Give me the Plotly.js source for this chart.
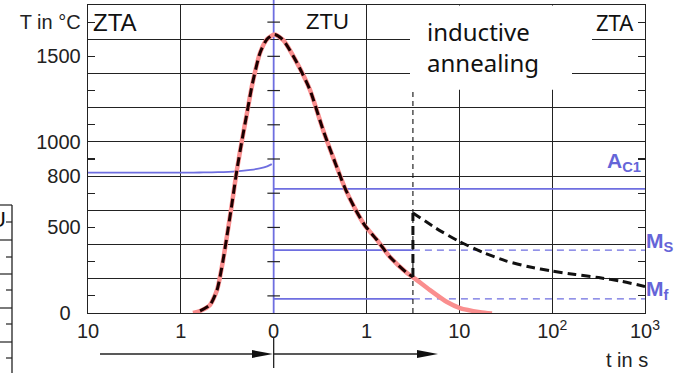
<!DOCTYPE html>
<html><head><meta charset="utf-8">
<script src="https://cdn.plot.ly/plotly-3.0.1.min.js"></script>
<style>html,body{margin:0;padding:0;background:#fff}#chart{width:679px;height:373px}</style>
</head><body><div id="chart"></div>
<script>
// Schematic time axis: one unit per segment (10 -> 1 -> 0 -> 1 -> 10 -> 10^2 -> 10^3)
const xTickPos = [0, 1, 2, 3, 4, 5, 6];
const xTickLabels = ['10', '1', '0', '1', '10', '10<sup>2</sup>', '10<sup>3</sup>'];
const xGridPos = [1, 3, 4, 5];

const yLabelVals = [0, 500, 800, 1000, 1500, 1700];
const yLabelText = ['0\u2002', '500', '800', '1000', '1500', 'T in °C'];
const yMinorTicks = [100, 300, 500, 700, 900, 1100, 1300, 1500, 1700];
const yGridVals = [200, 400, 600, 800, 1000, 1200, 1400, 1600];

// Weld thermal cycle (ZTA heating / ZTU cooling)
const cycleTime = [1.131, 1.207, 1.314, 1.390, 1.454, 1.497, 1.551, 1.605, 1.659, 1.713, 1.767, 1.853, 1.928, 2.010,
                   2.101, 2.251, 2.391, 2.532, 2.661, 2.768, 2.876, 2.984, 3.113, 3.253, 3.436, 3.500,
                   3.684, 3.867, 4.007, 4.223, 4.352];
const cycleTemp = [0, 12, 47, 134, 305, 450, 640, 840, 1010, 1170, 1330, 1520, 1600, 1628,
                   1596, 1462, 1304, 1070, 880, 730, 610, 510, 427, 327, 234, 210,
                   134, 64, 29, 5, -3];

// Inductive annealing after quench
const annealStart = 3.5;
const quenchTemp = [210, 585];
const annealTime = [3.5, 3.75, 4.0, 4.25, 4.5, 4.75, 5.0, 5.25, 5.5, 5.75, 6.0];
const annealTemp = [585, 495, 418, 355, 305, 270, 245, 225, 207, 185, 155];
const annealMarkerTemp = [0, 1300];

// ZTA transformation line (left)
const ztaTime = [0, 1.0, 1.2, 1.4, 1.6, 1.75, 1.85, 1.93, 1.98];
const ztaTemp = [820, 820, 821, 823, 828, 836, 845, 857, 870];

// Transformation temperatures
const ac1Temp = 725;
const msTemp = 368;
const mfTemp = 82;
const peakTime = 2;

const BLUE = '#6e6ee0';
const LBLUE = '#6565d8';
const INK = '#222';

const yTickVals = Array.from(new Set(yLabelVals.concat(yMinorTicks))).sort((a, b) => a - b);
const yTickText = yTickVals.map(v => { const i = yLabelVals.indexOf(v); return i >= 0 ? yLabelText[i] : ''; });

const blackA = { x: [], y: [] };
cycleTime.forEach((t, i) => { if (t >= 1.2 && t <= annealStart) { blackA.x.push(t); blackA.y.push(cycleTemp[i]); } });

const base = { type: 'scatter', mode: 'lines', hoverinfo: 'skip', showlegend: false };
const traces = [
  Object.assign({}, base, { x: ztaTime, y: ztaTemp, line: { color: BLUE, width: 1.8, shape: 'spline' } }),
  Object.assign({}, base, { x: [peakTime, 6], y: [ac1Temp, ac1Temp], line: { color: BLUE, width: 1.8 } }),
  Object.assign({}, base, { x: [peakTime, annealStart], y: [msTemp, msTemp], line: { color: BLUE, width: 1.8 } }),
  Object.assign({}, base, { x: [annealStart, 6], y: [msTemp, msTemp], line: { color: BLUE, width: 1.3, dash: '7px,5px' } }),
  Object.assign({}, base, { x: [peakTime, annealStart], y: [mfTemp, mfTemp], line: { color: BLUE, width: 1.8 } }),
  Object.assign({}, base, { x: [annealStart, 6], y: [mfTemp, mfTemp], line: { color: BLUE, width: 1.3, dash: '7px,5px' } }),
  Object.assign({}, base, { x: [annealStart, annealStart], y: annealMarkerTemp, line: { color: '#111', width: 1.1, dash: '5px,4px' } }),
  Object.assign({}, base, { x: cycleTime, y: cycleTemp, line: { color: '#fa8e8e', width: 4.5, shape: 'spline', smoothing: 0.6 } }),
  Object.assign({}, base, { x: blackA.x, y: blackA.y, line: { color: '#1e0000', width: 3, dash: '9px,5px', shape: 'spline', smoothing: 0.6 } }),
  Object.assign({}, base, { x: [annealStart, annealStart], y: quenchTemp, line: { color: '#111', width: 3, dash: '9px,5px' } }),
  Object.assign({}, base, { x: annealTime, y: annealTemp, line: { color: '#111', width: 3, dash: '9px,5px', shape: 'spline', smoothing: 0.6 } }),
  Object.assign({}, base, { mode: 'markers', x: yMinorTicks.map(() => peakTime), y: yMinorTicks,
    marker: { symbol: 'line-ew', size: 9, color: INK, line: { color: INK, width: 1.2 } } }),
  // carriers for the grid axes
  { type: 'scatter', mode: 'markers', x: [0], y: [0], xaxis: 'x2', yaxis: 'y', marker: { opacity: 0 }, hoverinfo: 'skip', showlegend: false },
  { type: 'scatter', mode: 'markers', x: [0], y: [0], xaxis: 'x', yaxis: 'y2', marker: { opacity: 0 }, hoverinfo: 'skip', showlegend: false }
];

const PW = 557, PH = 308, ML = 88, MT = 5;
const px = p => (p - ML) / PW;          // page x -> paper
const py = p => (MT + PH - p) / PH;     // page y -> paper
const u = p => (p - ML) / PW * 6;       // page x -> schematic time unit

const shapes = [
  // white cover behind the "inductive annealing" label
  { type: 'rect', xref: 'x', yref: 'y', x0: u(410), x1: u(572), y0: 1304, y1: 1796, fillcolor: '#fff', line: { width: 0 }, layer: 'between' },
  { type: 'rect', xref: 'x', yref: 'y', x0: u(410), x1: u(592), y0: 1497, y1: 1796, fillcolor: '#fff', line: { width: 0 }, layer: 'between' },
  // blue vertical line at t = 0
  { type: 'line', xref: 'x', yref: 'paper', x0: peakTime, x1: peakTime, y0: 0, y1: py(0), line: { color: BLUE, width: 1.8 }, layer: 'between' },
  // bottom arrows
  { type: 'line', xref: 'x', yref: 'paper', x0: u(100), x1: u(256), y0: py(354), y1: py(354), line: { color: INK, width: 1.3 } },
  { type: 'path', xref: 'x', yref: 'paper', xsizemode: 'pixel', ysizemode: 'pixel', xanchor: u(273), yanchor: py(354),
    path: 'M0,0L-21,4L-21,-4Z', fillcolor: '#111', line: { width: 0 } },
  { type: 'line', xref: 'x', yref: 'paper', x0: peakTime, x1: u(420), y0: py(354), y1: py(354), line: { color: INK, width: 1.3 } },
  { type: 'path', xref: 'x', yref: 'paper', xsizemode: 'pixel', ysizemode: 'pixel', xanchor: u(438), yanchor: py(354),
    path: 'M0,0L-21,4L-21,-4Z', fillcolor: '#111', line: { width: 0 } },
  { type: 'line', xref: 'x', yref: 'paper', x0: peakTime, x1: peakTime, y0: py(337), y1: py(368), line: { color: INK, width: 1.3 } },
  // neighbouring panel fragment at the far left
  { type: 'line', xref: 'paper', yref: 'paper', x0: px(12), x1: px(12), y0: py(205), y1: py(373), line: { color: INK, width: 1.3 } }
];
[205, 240, 274, 308, 342].forEach(p => shapes.push({ type: 'line', xref: 'paper', yref: 'paper', x0: px(0), x1: px(12), y0: py(p), y1: py(p), line: { color: INK, width: 1.2 } }));
[222, 257, 290, 324, 358].forEach(p => shapes.push({ type: 'line', xref: 'paper', yref: 'paper', x0: px(6), x1: px(12), y0: py(p), y1: py(p), line: { color: INK, width: 1.2 } }));

const AR = 'Liberation Sans, Arial, sans-serif';
const ann = (o) => Object.assign({ xref: 'paper', yref: 'paper', showarrow: false, yanchor: 'middle', borderpad: 0 }, o);
const annotations = [
  ann({ text: 'ZTA', x: px(92), xanchor: 'left', y: py(23), font: { family: AR, size: 24, color: '#111' } }),
  ann({ text: 'ZTU', x: px(327), xanchor: 'center', y: py(21), font: { family: AR, size: 22, color: '#111' } }),
  ann({ text: 'ZTA', x: px(615), xanchor: 'center', y: py(22), font: { family: 'Noto Sans, sans-serif', size: 22, color: '#111' } }),
  ann({ text: 'inductive<br>annealing', x: px(426), xanchor: 'left', align: 'left', y: py(47), font: { family: 'Noto Sans, sans-serif', size: 24, color: '#111' } }),
  ann({ text: 't in s', x: px(627), xanchor: 'center', y: py(372), yanchor: 'bottom', font: { family: AR, size: 20, color: INK } }),
  ann({ text: '<b>A<sub>C1</sub></b>', x: px(642), xanchor: 'right', y: py(162), font: { family: AR, size: 21, color: LBLUE } }),
  ann({ text: '<b>M<sub>S</sub></b>', x: px(645), xanchor: 'left', y: py(242), font: { family: AR, size: 21, color: LBLUE } }),
  ann({ text: '<b>M<sub>f</sub></b>', x: px(645), xanchor: 'left', y: py(290), font: { family: AR, size: 21, color: LBLUE } }),
  ann({ text: 'ZTU', x: px(7), xanchor: 'right', y: py(219), font: { family: AR, size: 22, color: '#111' } })
];

const layout = {
  width: 679, height: 373,
  margin: { l: ML, r: 679 - ML - PW, t: MT, b: 373 - MT - PH, pad: 0 },
  paper_bgcolor: '#fff', plot_bgcolor: '#fff', showlegend: false,
  font: { family: AR, size: 20, color: INK },
  xaxis: { range: [0, 6], tickmode: 'array', tickvals: xTickPos, ticktext: xTickLabels, ticks: '',
    showgrid: false, zeroline: false, showline: true, linecolor: INK, linewidth: 1.3, mirror: true,
    tickfont: { family: AR, size: 20, color: INK } },
  xaxis2: { overlaying: 'x', range: [0, 6], tickmode: 'array', tickvals: xGridPos, showgrid: true, gridcolor: INK, gridwidth: 1.2,
    showticklabels: false, ticks: '', zeroline: false, showline: false },
  yaxis: { range: [0, 1800], tickmode: 'array', tickvals: yTickVals, ticktext: yTickText, ticks: 'inside', ticklen: 7, tickwidth: 1.2,
    tickcolor: INK, showgrid: false, zeroline: false, showline: true, linecolor: INK, linewidth: 1.3, mirror: 'ticks',
    ticklabelstandoff: 2, tickfont: { family: AR, size: 20, color: INK } },
  yaxis2: { overlaying: 'y', range: [0, 1800], tickmode: 'array', tickvals: yGridVals, showgrid: true, gridcolor: INK, gridwidth: 1.2,
    showticklabels: false, ticks: '', zeroline: false, showline: false },
  shapes: shapes,
  annotations: annotations
};

Plotly.newPlot('chart', traces, layout, { staticPlot: true, displayModeBar: false });
</script>
</body></html>
